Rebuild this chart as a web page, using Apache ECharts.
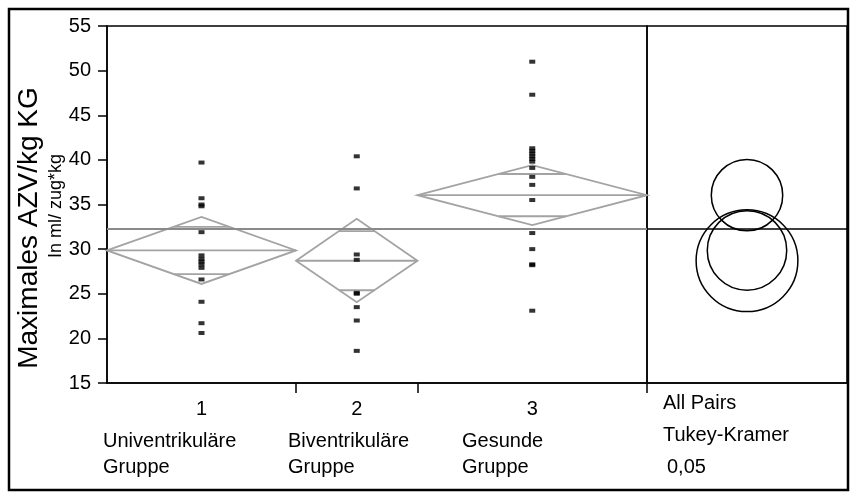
<!DOCTYPE html>
<html>
<head>
<meta charset="utf-8">
<script src="https://cdn.jsdelivr.net/npm/echarts@6/dist/echarts.min.js"></script>
<style>
  html, body { margin: 0; padding: 0; background: #fff; }
  #chart { width: 850px; height: 498px; }
</style>
</head>
<body>
<div id="chart"></div>
<script>
// Gruppen (Anzahl bestimmt die Breite auf der x-Achse)
const groupNames = ['1', '2', '3'];
const groupLabels = ['Univentrikuläre\nGruppe', 'Biventrikuläre\nGruppe', 'Gesunde\nGruppe'];
const groupCounts = [14, 9, 17];

// Einzelwerte je Gruppe (ml/zug*kg)
const values1 = [39.7, 35.7, 35.0, 34.8, 31.9, 29.3, 28.9, 28.6, 28.3, 27.9, 26.6, 24.1, 21.7, 20.6];
const values2 = [40.4, 36.8, 29.4, 28.8, 25.1, 25.0, 23.5, 22.0, 18.6];
const values3 = [51.0, 47.3, 41.3, 41.0, 40.7, 40.4, 40.1, 39.8, 39.1, 38.1, 37.2, 35.5, 31.8, 30.0, 28.3, 28.2, 23.1];

// Mittelwert-Rauten (Mittelwert, 95%-KI)
const groupMeans = [29.85, 28.7, 36.05];
const ciLower = [26.1, 24.05, 32.7];
const ciUpper = [33.6, 33.4, 39.4];
const grandMean = 32.25;

// Tukey-Kramer Vergleichskreise (Radius in y-Einheiten)
const circleRadius = [4.45, 5.7, 4.0];

const yTicks = { min: 15, max: 55, interval: 5 };

const chart = echarts.init(document.getElementById('chart'));

const allValues = [values1, values2, values3];
const bounds = [0];
groupCounts.forEach((n, i) => bounds.push(bounds[i] + n));
const centers = groupCounts.map((n, i) => bounds[i] + n / 2);
const total = bounds[bounds.length - 1];

const pointData = [];
allValues.forEach((arr, i) => arr.forEach(v => pointData.push([centers[i], v])));

const diamondData = groupMeans.map((m, i) => [bounds[i], bounds[i + 1], m, ciLower[i], ciUpper[i]]);
const circleData = groupMeans.map((m, i) => [0.5, m, circleRadius[i]]);

const fontFam = '"Liberation Sans", Arial, sans-serif';
const grey = '#a3a3a3';

const option = {
  animation: false,
  textStyle: { fontFamily: fontFam },
  grid: [
    { left: 107, top: 26, width: 540, height: 357, show: true, borderColor: '#000', borderWidth: 1.5 },
    { left: 647, top: 26, width: 200, height: 357, show: true, borderColor: '#000', borderWidth: 1.5 }
  ],
  xAxis: [
    {
      type: 'value', gridIndex: 0, min: 0, max: total,
      splitLine: { show: false },
      axisLine: { lineStyle: { color: '#000', width: 1.5 } },
      axisTick: { show: true, inside: false, length: 10, customValues: bounds.slice(1), lineStyle: { color: '#000', width: 1.5 } },
      axisLabel: {
        customValues: centers, margin: 16, color: '#000', fontSize: 20, fontFamily: fontFam,
        formatter: v => groupNames[centers.indexOf(v)] || ''
      }
    },
    {
      type: 'value', gridIndex: 1, min: 0, max: 1,
      splitLine: { show: false },
      axisLine: { lineStyle: { color: '#000', width: 1.5 } },
      axisTick: { show: true, length: 10, customValues: [0], lineStyle: { color: '#000', width: 1.5 } },
      axisLabel: { show: false }
    }
  ],
  yAxis: [
    {
      type: 'value', gridIndex: 0, min: yTicks.min, max: yTicks.max, interval: yTicks.interval,
      splitLine: { show: false },
      axisLine: { show: true, lineStyle: { color: '#000', width: 1.5 } },
      axisTick: { show: true, length: 9, lineStyle: { color: '#000', width: 1.5 } },
      axisLabel: { margin: 16, color: '#000', fontSize: 20, fontFamily: fontFam }
    },
    {
      type: 'value', gridIndex: 1, min: yTicks.min, max: yTicks.max, interval: yTicks.interval,
      splitLine: { show: false }, axisLine: { show: false }, axisTick: { show: false }, axisLabel: { show: false }
    }
  ],
  series: [
    {
      // Gesamtmittelwert
      type: 'line', xAxisIndex: 0, yAxisIndex: 0, symbol: 'none', silent: true, z: 3,
      data: [[0, grandMean], [total, grandMean]],
      lineStyle: { color: '#8a8a8a', width: 2 }
    },
    {
      type: 'custom', xAxisIndex: 0, yAxisIndex: 0, z: 2,
      data: diamondData,
      renderItem: (params, api) => {
        const x0 = api.value(0), x1 = api.value(1), m = api.value(2), lo = api.value(3), hi = api.value(4);
        const xc = (x0 + x1) / 2;
        const hw = (hi - lo) / 2;
        const pL = api.coord([x0, m]), pR = api.coord([x1, m]);
        const pT = api.coord([xc, hi]), pB = api.coord([xc, lo]);
        const style = { stroke: grey, lineWidth: 1.8, fill: null };
        const children = [
          { type: 'polygon', shape: { points: [pL, pT, pR, pB] }, style: style },
          { type: 'line', shape: { x1: pL[0], y1: pL[1], x2: pR[0], y2: pR[1] }, style: style }
        ];
        const k = 1 - 1 / Math.SQRT2;
        const halfW = (x1 - x0) / 2 * k;
        [m + hw / Math.SQRT2, m - hw / Math.SQRT2].forEach(v => {
          const a = api.coord([xc - halfW, v]), b = api.coord([xc + halfW, v]);
          children.push({ type: 'line', shape: { x1: a[0], y1: a[1], x2: b[0], y2: b[1] }, style: style });
        });
        return { type: 'group', children: children };
      }
    },
    {
      type: 'scatter', xAxisIndex: 0, yAxisIndex: 0, z: 4,
      symbol: 'rect', symbolSize: [6, 4],
      itemStyle: { color: '#000' },
      data: pointData
    },
    {
      type: 'line', xAxisIndex: 1, yAxisIndex: 1, symbol: 'none', silent: true,
      data: [[0, grandMean], [1, grandMean]],
      lineStyle: { color: '#000', width: 1.5 }
    },
    {
      type: 'custom', xAxisIndex: 1, yAxisIndex: 1,
      data: circleData,
      renderItem: (params, api) => {
        const c = api.coord([api.value(0), api.value(1)]);
        const r = api.size([0, api.value(2)])[1];
        return { type: 'circle', shape: { cx: c[0], cy: c[1], r: r }, style: { stroke: '#000', lineWidth: 1.5, fill: null } };
      }
    }
  ],
  graphic: [
    { type: 'rect', shape: { x: 9, y: 9, width: 839, height: 481 }, style: { stroke: '#000', lineWidth: 2.5, fill: null }, silent: true },
    { type: 'text', x: 29, y: 228, rotation: Math.PI / 2, style: { text: 'Maximales AZV/kg KG', font: '28px ' + fontFam, fill: '#000', textAlign: 'center', textVerticalAlign: 'middle' } },
    { type: 'text', x: 56, y: 206, rotation: Math.PI / 2, style: { text: 'In ml/ zug*kg', font: '18px ' + fontFam, fill: '#000', textAlign: 'center', textVerticalAlign: 'middle' } },
    { type: 'text', left: 103, top: 428, style: { text: groupLabels[0], font: '20px ' + fontFam, fill: '#000', lineHeight: 26 } },
    { type: 'text', left: 288, top: 428, style: { text: groupLabels[1], font: '20px ' + fontFam, fill: '#000', lineHeight: 26 } },
    { type: 'text', left: 462, top: 428, style: { text: groupLabels[2], font: '20px ' + fontFam, fill: '#000', lineHeight: 26 } },
    { type: 'text', left: 663, top: 387, style: { text: 'All Pairs\nTukey-Kramer', font: '20px ' + fontFam, fill: '#000', lineHeight: 32 } },
    { type: 'text', left: 667, top: 455, style: { text: '0,05', font: '20px ' + fontFam, fill: '#000', lineHeight: 24 } }
  ]
};

chart.setOption(option);
</script>
</body>
</html>
